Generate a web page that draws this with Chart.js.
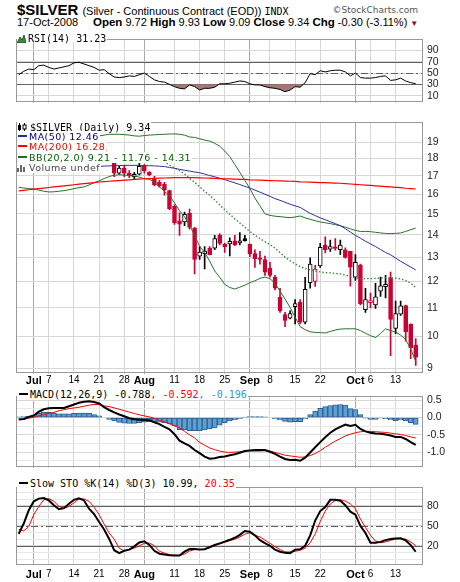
<!DOCTYPE html>
<html lang="en">
<head>
<meta charset="UTF-8">
<title>$SILVER daily</title>
<script src="https://cdn.jsdelivr.net/npm/chart.js@4.4.1/dist/chart.umd.min.js"></script>
<style>
  body { margin: 0; background: #fff; }
  #wrap { position: relative; width: 460px; height: 582px; overflow: hidden; background: #fff;
          font-family: 'Liberation Sans', Arial, sans-serif; color: #000; }
  canvas { position: absolute; left: 0; }
  .abs { position: absolute; white-space: nowrap; }
  .lg { position: absolute; left: 17px; height: 11px; line-height: 11px; background: #fff;
        white-space: nowrap; z-index: 2; padding-right: 1px; }
  .lg svg { vertical-align: -1px; margin-right: 2px; }
  .mono { font-family: 'DejaVu Sans Mono', monospace; font-size: 10px; }
  .prop { font-family: 'DejaVu Sans', Verdana, sans-serif; font-size: 9.5px; letter-spacing: 0.45px; }
  .dash { display: inline-block; width: 9px; height: 2px; vertical-align: 3px; margin: 0 2px 0 2px; }
  .b { font-weight: bold; font-size: 11.5px; }
</style>
</head>
<body>
<div id="wrap">
  <div class="abs" style="left:17px;top:1px;line-height:18px;font-size:15px">
    <span style="font:bold 15px 'Liberation Sans Narrow','Liberation Sans',Arial">$SILVER</span><span style="font-size:11px;margin-left:4px">(Silver - Continuous Contract (EOD))</span><span style="font-size:10px;margin-left:3px;font-family:'DejaVu Sans Mono',monospace">INDX</span>
  </div>
  <div class="abs" style="right:42px;top:5px;line-height:12px;font:9px 'DejaVu Sans',sans-serif;color:#555">&copy;StockCharts.com</div>
  <div class="abs" style="left:17px;top:15px;line-height:14px;font-size:11px">17-Oct-2008</div>
  <div class="abs" style="left:93px;top:15px;line-height:14px;font-size:11px">
    <span class="b">Open</span> 9.72 <span class="b">High</span> 9.93 <span class="b">Low</span> 9.09 <span class="b">Close</span> 9.34 <span class="b">Chg</span> -0.30 (-3.11%)<span style="color:#990033;font-size:8px;margin-left:3px">&#9660;</span>
  </div>

  <canvas id="cRsi" width="460" height="84" style="top:29px;width:460px;height:84px"></canvas>
  <canvas id="cPrice" width="460" height="274" style="top:112px;width:460px;height:274px"></canvas>
  <canvas id="cMacd" width="460" height="92" style="top:386px;width:460px;height:92px"></canvas>
  <canvas id="cSto" width="460" height="105" style="top:477px;width:460px;height:105px"></canvas>

  <div class="lg" style="top:31px"><svg width="9" height="8"><polygon points="0,8 3,2 5,5 7,0 9,8" fill="#3c8c3c" stroke="#1c3c1c" stroke-width="0.8"/></svg><span class="mono">RSI(14) 31.23</span></div>

  <div class="lg" style="top:120px"><svg width="11" height="9"><line x1="2.5" y1="0" x2="2.5" y2="9" stroke="#000"/><rect x="1" y="2" width="3" height="5" fill="#000"/><line x1="7.5" y1="0" x2="7.5" y2="9" stroke="#000"/><rect x="6" y="2" width="3" height="4" fill="#fff" stroke="#000"/></svg><span class="mono">$SILVER (Daily) 9.34</span></div>
  <div class="lg prop" style="top:130.5px;color:#000080"><span class="dash" style="background:#2a2a9a;margin-left:1px"></span>MA(50) 12.46</div>
  <div class="lg prop" style="top:141px;color:#ff0000"><span class="dash" style="background:#ff0000;margin-left:1px"></span>MA(200) 16.28</div>
  <div class="lg prop" style="top:151.5px;color:#006400"><span class="dash" style="background:#1e6e1e;margin-left:1px"></span>BB(20,2.0) 9.21 - 11.76 - 14.31</div>
  <div class="lg prop" style="top:162px;color:#444"><svg width="10" height="8"><rect x="0" y="4" width="2" height="4" fill="#666"/><rect x="3" y="1" width="2" height="7" fill="#666"/><rect x="6" y="3" width="2" height="5" fill="#666"/></svg>Volume undef</div>

  <div class="lg mono" style="top:389px"><span class="dash" style="background:#000"></span>MACD(12,26,9) -0.788<span style="color:#ff0000">, -0.592</span><span style="color:#3399cc">, -0.196</span></div>
  <div class="lg mono" style="top:478px"><span class="dash" style="background:#000"></span>Slow STO %K(14) %D(3) 10.99, <span style="color:#ff0000">20.35</span></div>
</div>

<script>
// trading days shown (2008), one candle per entry
const days = ['06-26','06-27','06-30',
  '07-01','07-02','07-03','07-07','07-08','07-09','07-10','07-11','07-14','07-15','07-16','07-17','07-18',
  '07-21','07-22','07-23','07-24','07-25','07-28','07-29','07-30','07-31',
  '08-01','08-04','08-05','08-06','08-07','08-08','08-11','08-12','08-13','08-14','08-15','08-18','08-19',
  '08-20','08-21','08-22','08-25','08-26','08-27','08-28','08-29',
  '09-02','09-03','09-04','09-05','09-08','09-09','09-10','09-11','09-12','09-15','09-16','09-17','09-18',
  '09-19','09-22','09-23','09-24','09-25','09-26','09-29','09-30',
  '10-01','10-02','10-03','10-06','10-07','10-08','10-09','10-10','10-13','10-14','10-15','10-16','10-17'];

// x axis labels
const tickDays = ['07-01','07-07','07-14','07-21','07-28','08-01','08-11','08-18','08-25','09-02','09-08','09-15','09-22','10-01','10-06','10-13'];
const tickText = ['Jul','7','14','21','28','Aug','11','18','25','Sep','8','15','22','Oct','6','13'];
const monthText = ['Jul','Aug','Sep','Oct'];

// price candles
const open = [17.30,17.65,17.85,17.55,17.95,18.35,18.25,17.95,17.75,18.10,
  18.35,18.75,18.95,19.20,18.95,18.75,18.22,18.60,18.06,17.85,
  17.15,17.45,17.15,16.95,17.10,17.55,17.20,16.85,16.64,16.55,
  16.20,15.37,14.65,14.60,15.02,14.30,13.04,13.15,13.39,13.39,
  13.97,13.56,13.58,13.72,13.62,13.82,13.57,13.15,12.97,12.90,
  12.54,12.17,11.38,10.75,10.63,11.04,11.21,10.49,11.95,12.00,
  12.63,13.53,13.35,13.45,13.32,13.32,13.25,12.17,12.66,10.93,
  11.18,11.10,11.62,11.79,12.14,10.27,10.77,11.08,10.41,9.72];
const high = [17.75,17.95,17.95,18.05,18.45,18.50,18.30,18.00,18.20,18.45,
  18.85,19.05,19.45,19.30,19.12,19.30,18.70,18.95,18.20,17.95,
  17.55,17.60,17.30,17.20,17.95,17.65,17.25,16.98,16.75,16.64,
  16.22,15.45,15.05,15.08,15.24,14.34,13.46,13.46,13.46,13.97,
  14.05,13.62,13.85,13.97,14.10,13.97,13.57,13.32,13.25,13.04,
  12.78,12.24,11.73,10.83,10.89,11.30,11.30,12.16,12.97,12.65,
  13.60,13.90,13.75,13.82,13.75,13.40,13.25,13.11,12.70,11.73,
  11.54,11.92,12.17,12.24,12.37,11.24,11.24,11.10,10.43,9.93];
const low = [17.25,17.55,17.40,17.50,17.90,18.10,17.85,17.60,17.70,18.00,
  18.30,18.60,18.90,18.80,18.60,18.30,18.20,17.95,17.85,16.95,
  17.10,16.95,16.90,16.85,17.05,17.15,17.00,16.45,16.38,15.95,
  15.20,14.48,13.97,14.42,14.26,12.30,12.90,12.50,13.10,13.32,
  13.53,13.20,13.05,13.50,13.53,13.70,13.02,12.56,12.70,12.24,
  12.17,11.67,10.83,10.33,10.60,10.43,10.43,10.43,11.73,11.80,
  12.57,13.18,13.25,13.30,13.11,12.95,11.81,12.04,11.10,10.83,
  11.00,10.97,11.42,11.36,9.39,10.10,10.72,9.85,9.30,9.09];
const close = [17.65,17.85,17.55,17.95,18.35,18.25,17.95,17.75,18.10,18.35,
  18.75,18.95,19.20,18.95,18.72,18.50,18.52,18.02,17.93,17.15,
  17.45,17.15,17.00,17.08,17.55,17.30,17.05,16.50,16.45,16.24,
  15.24,14.56,14.49,14.97,14.34,12.90,13.22,13.26,13.11,13.82,
  13.60,13.46,13.70,13.53,13.72,13.73,13.14,12.93,12.90,12.37,
  12.24,11.73,10.89,10.55,10.79,11.15,10.49,11.69,12.70,12.50,
  13.43,13.32,13.46,13.38,13.53,12.99,12.58,12.78,11.15,11.30,
  11.26,11.40,11.82,11.88,10.58,10.79,11.07,10.16,9.64,9.34];

// overlays
const ma50 = [17.20,17.22,17.24,17.26,17.28,17.30,17.32,17.34,17.36,17.38,
  17.40,17.42,17.45,17.48,17.50,17.52,17.54,17.56,17.57,17.58,
  17.59,17.60,17.60,17.60,17.60,17.59,17.58,17.57,17.55,17.53,
  17.48,17.43,17.37,17.32,17.27,17.22,17.18,17.10,17.02,16.95,
  16.87,16.79,16.70,16.61,16.52,16.42,16.33,16.22,16.11,16.00,
  15.89,15.77,15.68,15.58,15.48,15.40,15.32,15.17,15.02,14.91,
  14.80,14.71,14.61,14.52,14.42,14.28,14.12,13.97,13.84,13.70,
  13.58,13.46,13.33,13.20,13.10,12.96,12.82,12.70,12.58,12.46];
const ma200 = [16.18,16.21,16.24,16.27,16.30,16.33,16.36,16.39,16.42,16.45,
  16.48,16.51,16.54,16.57,16.60,16.63,16.66,16.68,16.70,16.72,
  16.74,16.76,16.78,16.80,16.82,16.84,16.85,16.86,16.87,16.88,
  16.89,16.90,16.90,16.90,16.90,16.90,16.89,16.88,16.87,16.86,
  16.85,16.84,16.83,16.82,16.81,16.80,16.78,16.77,16.76,16.75,
  16.74,16.73,16.72,16.71,16.70,16.69,16.67,16.66,16.65,16.64,
  16.63,16.62,16.61,16.60,16.59,16.57,16.55,16.53,16.51,16.49,
  16.47,16.45,16.43,16.41,16.39,16.37,16.35,16.32,16.30,16.28];
const bbUpper = [18.50,18.55,18.60,18.60,18.62,18.65,18.68,18.70,18.72,18.75,
  18.80,18.90,19.05,19.15,19.25,19.35,19.40,19.45,19.50,19.50,
  19.50,19.48,19.45,19.40,19.38,19.42,19.45,19.47,19.49,19.50,
  19.52,19.53,19.50,19.45,19.33,19.30,19.22,19.13,19.07,18.93,
  18.75,18.45,18.12,17.65,17.20,16.75,16.30,15.80,15.40,15.00,
  14.92,14.88,14.86,14.83,14.81,14.84,14.89,14.80,14.73,14.66,
  14.60,14.56,14.52,14.47,14.42,14.35,14.27,14.20,14.15,14.15,
  14.14,14.11,14.08,14.06,14.05,14.06,14.08,14.15,14.23,14.31];
const bbMid = [17.45,17.45,17.45,17.44,17.42,17.41,17.40,17.42,17.44,17.47,
  17.52,17.60,17.70,17.77,17.87,17.98,18.05,18.10,18.13,18.15,
  18.16,18.16,18.15,18.14,18.12,18.10,18.06,17.98,17.90,17.80,
  17.62,17.45,17.30,17.10,16.85,16.65,16.40,16.15,15.95,15.70,
  15.45,15.20,14.98,14.75,14.55,14.35,14.15,13.98,13.82,13.68,
  13.55,13.39,13.20,13.00,12.85,12.72,12.60,12.52,12.47,12.42,
  12.38,12.35,12.34,12.32,12.30,12.25,12.20,12.14,12.12,12.11,
  12.11,12.12,12.13,12.14,12.14,12.13,12.10,12.03,11.93,11.76];
const bbLower = [16.37,16.33,16.30,16.28,16.22,16.16,16.12,16.13,16.16,16.19,
  16.24,16.30,16.35,16.39,16.50,16.62,16.72,16.85,16.96,17.04,
  17.06,17.05,17.02,16.99,16.93,16.84,16.81,16.65,16.40,16.15,
  15.93,15.55,15.15,14.85,14.45,13.97,13.47,13.20,12.83,12.42,
  12.16,11.88,11.76,11.70,11.77,11.85,11.95,12.02,12.12,12.17,
  12.11,11.92,11.62,11.32,11.01,10.66,10.33,10.23,10.16,10.14,
  10.13,10.12,10.17,10.22,10.25,10.26,10.26,10.26,10.20,10.11,
  10.03,9.97,10.10,10.26,10.20,10.15,10.05,9.90,9.60,9.21];

// indicators
const rsi = [47,53,57,56,63,64,60,57,59,61,
  63,68,69,66,63,60,55,56,49,43,
  42,43,45,44,47,50,44,38,35,34,
  30,26,23,22,29,26,20,23,23,25,
  31,31,32,34,36,35,31,29,29,26,
  24,23,21,17,20,26,25,33,49,47,
  54,52,54,55,55,52,45,50,42,41,
  41,42,44,45,37,38,41,36,33,31.23];
const macd = [-0.05,-0.04,0.02,0.06,0.17,0.24,0.27,0.28,0.28,0.28,
  0.33,0.38,0.43,0.46,0.47,0.45,0.41,0.30,0.22,0.15,
  0.09,0.04,-0.02,-0.05,-0.06,-0.07,-0.08,-0.14,-0.19,-0.27,
  -0.34,-0.48,-0.67,-0.75,-0.82,-0.94,-1.03,-1.13,-1.19,-1.18,
  -1.14,-1.13,-1.09,-1.06,-1.02,-0.97,-0.95,-0.94,-0.94,-0.94,
  -0.99,-1.05,-1.13,-1.20,-1.23,-1.22,-1.25,-1.16,-1.01,-0.86,
  -0.71,-0.57,-0.44,-0.34,-0.27,-0.20,-0.24,-0.21,-0.33,-0.40,
  -0.44,-0.46,-0.47,-0.49,-0.52,-0.56,-0.56,-0.62,-0.71,-0.788];
const macdSignal = [-0.07,-0.05,-0.02,0.01,0.05,0.09,0.12,0.15,0.20,0.23,
  0.26,0.28,0.30,0.33,0.36,0.38,0.38,0.34,0.32,0.28,
  0.24,0.20,0.16,0.12,0.08,0.05,0.02,-0.02,-0.08,-0.12,
  -0.18,-0.24,-0.30,-0.40,-0.50,-0.59,-0.72,-0.80,-0.88,-0.93,
  -0.97,-1.00,-1.01,-1.00,-0.99,-0.98,-0.97,-0.97,-0.97,-0.96,
  -0.97,-1.01,-1.05,-1.09,-1.11,-1.13,-1.15,-1.14,-1.10,-1.04,
  -0.96,-0.86,-0.77,-0.68,-0.61,-0.53,-0.48,-0.44,-0.41,-0.40,
  -0.40,-0.41,-0.42,-0.43,-0.45,-0.47,-0.49,-0.52,-0.56,-0.592];
const macdHist = [0.02,0.03,0.04,0.05,0.12,0.15,0.15,0.13,0.11,0.11,
  0.11,0.12,0.13,0.13,0.12,0.09,0.05,0.00,-0.05,-0.10,
  -0.14,-0.16,-0.17,-0.17,-0.15,-0.13,-0.12,-0.12,-0.13,-0.15,
  -0.18,-0.24,-0.35,-0.36,-0.38,-0.38,-0.38,-0.36,-0.33,-0.30,
  -0.22,-0.15,-0.10,-0.06,-0.03,0.01,0.03,0.03,0.03,0.02,
  0.00,-0.03,-0.07,-0.11,-0.13,-0.12,-0.12,-0.03,0.09,0.19,
  0.27,0.32,0.35,0.37,0.38,0.36,0.26,0.23,0.09,-0.01,
  -0.05,-0.05,-0.02,-0.04,-0.07,-0.09,-0.07,-0.10,-0.15,-0.196];
const stoK = [37.8,53.3,73.3,86.7,90.7,91.6,88,80.9,74.7,76.4,
  83.1,88.9,91.1,88,75.6,67.6,55.6,44.4,30.2,13.3,
  8.9,12.4,14.2,19.1,24.9,26.7,21.3,12.4,8,6.7,
  5.8,5.3,5.3,11.1,15.1,15.1,14.2,14.7,17.8,21.3,
  23.6,26.2,28.9,32,36.4,42.2,40.9,35.6,28.4,24,
  20,14.2,11.1,9.3,8.9,14.2,14.7,20,35.6,57.8,
  72,78.2,88.9,88.9,87.6,80.9,71.1,66.7,49.8,39.1,
  24.4,24.4,25.8,28.4,30.2,30.7,31.1,28,20.9,10.99];
const stoD = [44.4,42.2,48.9,66.7,79.1,88.9,90.7,86.7,79.1,76,
  79.1,84.4,90.2,90.2,86.7,77.8,66.7,52.4,39.1,29.8,
  16.4,12.4,14.2,16.4,20,23.6,24,20,11.6,8.9,
  6.7,5.8,5.3,7.6,12,14.2,14.2,14.7,16.9,20,
  22.7,25.3,27.6,29.8,33.3,37.3,39.6,35.6,33.3,28.4,
  23.6,18.7,14.2,10.7,10.7,11.6,13.3,16.4,24.4,37.8,
  56.4,72,82.7,88,88.9,87.1,82.7,75.6,60,47.6,
  35.6,27.1,24.4,25.8,28,30.2,31.1,29.8,25.8,20.35];

// y tick labels per panel
const rsiTicks = [10, 30, 50, 70, 90];
const priceTicks = [9, 10, 11, 12, 13, 14, 15, 16, 17, 18, 19];
const macdTicks = [0.5, 0, -0.5, -1];
const stoTicks = [20, 50, 80];

// ---------------------------------------------------------------
const RED = '#cc0033';
const FONT = "'Liberation Sans', Arial, sans-serif";
Chart.defaults.animation = false;
Chart.defaults.font.family = FONT;

const tickIdx = tickDays.map(d => days.indexOf(d));
const isMonth = v => monthText.includes(tickText[tickIdx.indexOf(v)]);
const pts = arr => arr.map((v, i) => ({ x: i, y: v }));

function xScale(showLabels, h) {
  return {
    type: 'linear', min: -0.54, max: 80.45, offset: false,
    afterBuildTicks: s => { s.ticks = tickIdx.map(v => ({ value: v })); },
    afterFit: s => { s.height = h; },
    grid: { offset: false, drawTicks: false, color: c => (c.tick && isMonth(c.tick.value)) ? '#a8a8a8' : '#d6d6d6' },
    border: { display: false },
    ticks: {
      display: showLabels, autoSkip: false, maxRotation: 0, padding: h > 14 ? 3.5 : 1, color: '#000',
      font: c => (c.tick && isMonth(c.tick.value)) ? { family: FONT, size: 11, weight: 'bold' } : { family: FONT, size: 10 },
      callback: v => { const k = tickIdx.indexOf(v); return k < 0 ? '' : tickText[k]; }
    }
  };
}

function yScale(extra, labelled, minor, fmt) {
  return Object.assign({
    position: 'right',
    afterFit: s => { s.width = 37; },
    afterBuildTicks: s => { s.ticks = labelled.concat(minor).map(v => ({ value: v })); },
    border: { display: false },
    grid: { drawTicks: false, color: c => (c.tick && minor.includes(c.tick.value)) ? '#e8e8e8' : '#d6d6d6' },
    ticks: { autoSkip: false, padding: 4, color: '#222', font: { family: FONT, size: 10.5 },
             callback: v => labelled.includes(v) ? fmt(v) : '' }
  }, extra);
}

// frame around the panel and the fixed reference lines
const panel = {
  id: 'panel',
  beforeDatasetsDraw(chart, args, opts) {
    const { ctx, chartArea: a, scales: { y } } = chart;
    (opts.lines || []).forEach(l => {
      const py = Math.round(y.getPixelForValue(l.v)) + 0.5;
      ctx.save();
      ctx.strokeStyle = '#606060';
      ctx.lineWidth = 1;
      ctx.setLineDash(l.dash || []);
      ctx.beginPath(); ctx.moveTo(a.left, py); ctx.lineTo(a.right, py); ctx.stroke();
      ctx.restore();
    });
  },
  afterDraw(chart) {
    const { ctx, chartArea: a } = chart;
    ctx.save();
    ctx.strokeStyle = '#999';
    ctx.lineWidth = 1;
    ctx.strokeRect(Math.round(a.left) + 0.5, Math.round(a.top) + 0.5,
                   Math.round(a.right - a.left) - 1, Math.round(a.bottom - a.top) - 1);
    ctx.restore();
  }
};

const basePlugins = lines => ({ legend: { display: false }, tooltip: { enabled: false }, panel: { lines: lines } });
const dashDot = [7, 3, 2, 3];

// RSI
new Chart(document.getElementById('cRsi'), {
  type: 'line',
  plugins: [panel],
  data: { datasets: [{
    data: pts(rsi), borderColor: '#000', borderWidth: 1, pointRadius: 0,
    fill: { value: 30, above: 'rgba(0,0,0,0)', below: '#a87676' }
  }] },
  options: {
    responsive: false,
    layout: { padding: { left: 16, top: 0.5, bottom: 0.5, right: 0 } },
    scales: {
      x: xScale(false, 0),
      y: yScale({ min: -2.4, max: 109.6 }, rsiTicks, [], v => String(v))
    },
    plugins: basePlugins([{ v: 70 }, { v: 50, dash: dashDot }, { v: 30 }])
  }
});

// price panel
const candleCol = close.map((c, i) => (i > 0 && c < close[i - 1]) ? RED : '#000');
const bodyFill = close.map((c, i) => c > open[i] ? '#fff' : candleCol[i]);

new Chart(document.getElementById('cPrice'), {
  type: 'bar',
  plugins: [panel],
  data: { datasets: [
    { type: 'bar', data: low.map((l, i) => ({ x: i, y: [l, high[i]] })),
      backgroundColor: candleCol, barThickness: 1, grouped: false, order: 3 },
    { type: 'bar', data: open.map((o, i) => ({ x: i, y: [o, close[i]] })),
      backgroundColor: bodyFill, borderColor: candleCol, borderWidth: 1, borderSkipped: false,
      barThickness: 4, grouped: false, order: 2 },
    { type: 'line', data: pts(ma200), borderColor: '#ff0000', borderWidth: 1.2, pointRadius: 0, order: 1 },
    { type: 'line', data: pts(ma50), borderColor: '#2e2ea6', borderWidth: 1, pointRadius: 0, order: 1 },
    { type: 'line', data: pts(bbUpper), borderColor: '#267326', borderWidth: 1, pointRadius: 0, order: 1 },
    { type: 'line', data: pts(bbLower), borderColor: '#267326', borderWidth: 1, pointRadius: 0, order: 1 },
    { type: 'line', data: pts(bbMid), borderColor: '#3a8a3a', borderWidth: 1.4, borderDash: [1.5, 2],
      pointRadius: 0, order: 1 }
  ] },
  options: {
    responsive: false,
    layout: { padding: { left: 16, top: 0.5, bottom: 0, right: 0 } },
    scales: {
      x: xScale(true, 12.5),
      y: yScale({ type: 'logarithmic', min: 8.852, max: 20.29 }, priceTicks, [], v => String(v))
    },
    plugins: basePlugins([])
  }
});

// MACD
new Chart(document.getElementById('cMacd'), {
  type: 'bar',
  plugins: [panel],
  data: { datasets: [
    { type: 'bar', data: pts(macdHist), backgroundColor: '#5b9fd3', borderColor: '#2c5f8f',
      borderWidth: 1, borderSkipped: false, barThickness: 5.03, grouped: false, order: 3 },
    { type: 'line', data: pts(macdSignal), borderColor: '#ff0000', borderWidth: 1, pointRadius: 0, order: 2 },
    { type: 'line', data: pts(macd), borderColor: '#000', borderWidth: 2, pointRadius: 0, order: 1 }
  ] },
  options: {
    responsive: false,
    layout: { padding: { left: 16, top: 1, bottom: 0.5, right: 0 } },
    scales: {
      x: xScale(false, 0),
      y: yScale({ min: -1.452, max: 0.617 }, macdTicks, [0.25, -0.25, -0.75, -1.25], v => v.toFixed(1))
    },
    plugins: basePlugins([])
  }
});

// Slow stochastics
new Chart(document.getElementById('cSto'), {
  type: 'line',
  plugins: [panel],
  data: { datasets: [
    { data: pts(stoD), borderColor: '#ff0000', borderWidth: 1, pointRadius: 0, order: 2 },
    { data: pts(stoK), borderColor: '#000', borderWidth: 2, pointRadius: 0, order: 1 }
  ] },
  options: {
    responsive: false,
    layout: { padding: { left: 16, top: 0.5, bottom: 0, right: 0 } },
    scales: {
      x: xScale(true, 17),
      y: yScale({ min: -8.9, max: 107.7 }, stoTicks, [0, 10, 30, 40, 60, 70, 90, 100], v => String(v))
    },
    plugins: basePlugins([{ v: 80 }, { v: 50, dash: dashDot }, { v: 20 }])
  }
});
</script>
</body>
</html>
